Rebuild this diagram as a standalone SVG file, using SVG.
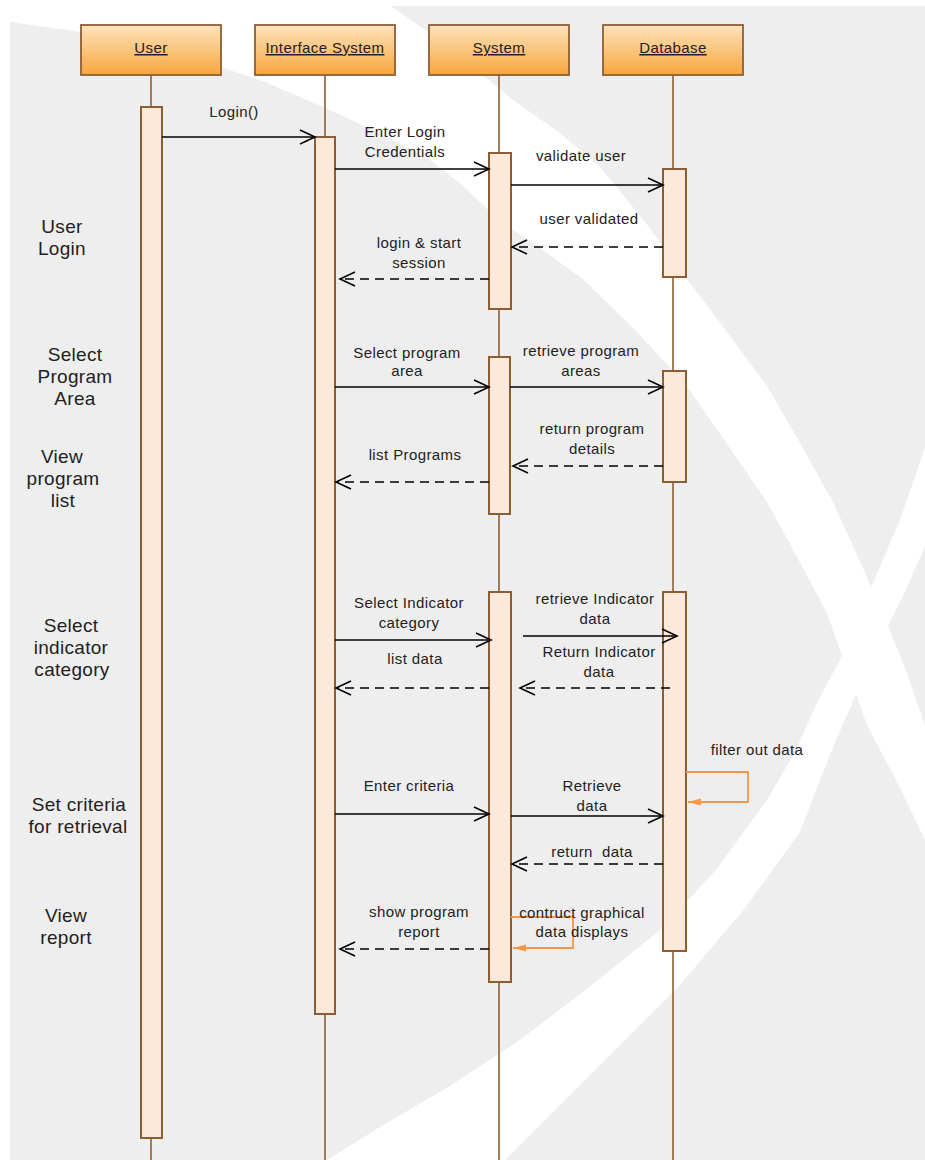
<svg xmlns="http://www.w3.org/2000/svg" width="925" height="1160" viewBox="0 0 925 1160">
<style>
  text { font-family: "Liberation Sans", Arial, sans-serif; fill: #222; }
  .hdr { font-size: 15px; letter-spacing: 0.4px; text-anchor: middle; text-decoration: underline; }
  .msg { font-size: 15px; letter-spacing: 0.4px; text-anchor: middle; }
  .side { font-size: 19px; letter-spacing: 0.3px; text-anchor: middle; }
  .box { fill: url(#hdrGrad); stroke: #8e5e33; stroke-width: 1.8; }
  .life { stroke: #8e5e33; stroke-width: 1.6; fill: none; }
  .act { fill: #fde9da; stroke: #8e5e33; stroke-width: 2; }
  .call { stroke: #000; stroke-width: 1.6; fill: none; marker-end: url(#open); }
  .ret { stroke: #000; stroke-width: 1.6; fill: none; stroke-dasharray: 9 6; marker-end: url(#open); }
  .self { stroke: #f79646; stroke-width: 1.8; fill: none; marker-end: url(#orange); }
</style>
<defs>
  <linearGradient id="hdrGrad" x1="0" y1="0" x2="0" y2="1">
    <stop offset="0" stop-color="#fde3bd"/>
    <stop offset="1" stop-color="#f9a63c"/>
  </linearGradient>
  <marker id="open" viewBox="0 0 16 16" refX="15" refY="8" markerWidth="16" markerHeight="16" markerUnits="userSpaceOnUse" orient="auto" overflow="visible">
    <path d="M0,1 L15,8 L0,15" fill="none" stroke="#000" stroke-width="1.6"/>
  </marker>
  <marker id="orange" viewBox="0 0 14 8" refX="13" refY="4" markerWidth="14" markerHeight="8" markerUnits="userSpaceOnUse" orient="auto" overflow="visible">
    <path d="M0,0.5 L13,4 L0,7.5 Z" fill="#f79646"/>
  </marker>
</defs>

<g id="background">
  <rect x="0" y="0" width="925" height="1160" fill="#ffffff"/>
  <rect x="10" y="6" width="915" height="1154" fill="#eeeeee"/>
  <polygon fill="#ffffff" points="10,6 391,6 445,44 513,100 560,133 600,167 645,222 687,279 727,332 767,386 800,443 833,502 858,557 883,613 905,668 925,725 925,840 897,782 867,725 847,669 827,613 797,557 767,502 727,444 687,386 635,330 583,279 540,248 500,221 462,185 430,160 380,133 330,110 265,82 200,60 110,36 10,22"/>
  <polygon fill="#ffffff" points="925,448 900,520 870,590 845,650 817,703 795,752 767,800 716,870 660,930 592,985 520,1040 450,1086 380,1127 327,1160 505,1160 590,1075 680,985 745,908 800,832 833,747 858,690 883,636 905,592 925,546"/>
</g>

<g id="user">
  <rect class="box" x="81" y="25" width="140" height="50"/>
  <text class="hdr" x="151" y="53">User</text>
  <line class="life" x1="151" y1="75" x2="151" y2="1160"/>
  <rect class="act" x="141" y="107" width="21" height="1031"/>
</g>

<g id="interface-system">
  <rect class="box" x="255" y="25" width="140" height="50"/>
  <text class="hdr" x="325" y="53">Interface System</text>
  <line class="life" x1="325" y1="75" x2="325" y2="1160"/>
  <rect class="act" x="315" y="137" width="20" height="877"/>
</g>

<g id="system">
  <rect class="box" x="429" y="25" width="140" height="50"/>
  <text class="hdr" x="499" y="53">System</text>
  <line class="life" x1="499" y1="75" x2="499" y2="1160"/>
  <rect class="act" x="489" y="153" width="22" height="156"/>
  <rect class="act" x="489" y="357" width="21" height="157"/>
  <rect class="act" x="489" y="592" width="22" height="390"/>
</g>

<g id="database">
  <rect class="box" x="603" y="25" width="140" height="50"/>
  <text class="hdr" x="673" y="53">Database</text>
  <line class="life" x1="673" y1="75" x2="673" y2="1160"/>
  <rect class="act" x="663" y="169" width="23" height="108"/>
  <rect class="act" x="663" y="371" width="23" height="111"/>
  <rect class="act" x="663" y="592" width="23" height="359"/>
</g>

<g id="connectors">
  <line class="call" x1="162" y1="137" x2="315" y2="137"/>
  <line class="call" x1="335" y1="169" x2="489" y2="169"/>
  <line class="call" x1="511" y1="185" x2="663" y2="185"/>
  <line class="ret" x1="663" y1="247" x2="512" y2="247"/>
  <line class="ret" x1="489" y1="279" x2="340" y2="279"/>
  <line class="call" x1="335" y1="387" x2="489" y2="387"/>
  <line class="call" x1="510" y1="387" x2="663" y2="387"/>
  <line class="ret" x1="663" y1="466" x2="513" y2="466"/>
  <line class="ret" x1="489" y1="482" x2="336" y2="482"/>
  <line class="call" x1="335" y1="640" x2="491" y2="640"/>
  <line class="call" x1="523" y1="636" x2="677" y2="636"/>
  <line class="ret" x1="670" y1="688" x2="520" y2="688"/>
  <line class="ret" x1="489" y1="688" x2="336" y2="688"/>
  <path class="self" d="M686,772 H748 V802 H688"/>
  <line class="call" x1="335" y1="814" x2="489" y2="814"/>
  <line class="call" x1="511" y1="816" x2="663" y2="816"/>
  <line class="ret" x1="663" y1="864" x2="512" y2="864"/>
  <path class="self" d="M511,917 H573 V948 H513"/>
  <line class="ret" x1="489" y1="949" x2="340" y2="949"/>
</g>

<g id="message-labels">
  <text class="msg" x="234" y="117">Login()</text>
  <text class="msg" x="405" y="137">Enter Login</text>
  <text class="msg" x="405" y="157">Credentials</text>
  <text class="msg" x="581" y="161">validate user</text>
  <text class="msg" x="589" y="224">user validated</text>
  <text class="msg" x="419" y="248">login &amp; start</text>
  <text class="msg" x="419" y="268">session</text>
  <text class="msg" x="407" y="358">Select program</text>
  <text class="msg" x="407" y="376">area</text>
  <text class="msg" x="581" y="356">retrieve program</text>
  <text class="msg" x="581" y="376">areas</text>
  <text class="msg" x="592" y="434">return program</text>
  <text class="msg" x="592" y="454">details</text>
  <text class="msg" x="415" y="460">list Programs</text>
  <text class="msg" x="409" y="608">Select Indicator</text>
  <text class="msg" x="409" y="628">category</text>
  <text class="msg" x="595" y="604">retrieve Indicator</text>
  <text class="msg" x="595" y="624">data</text>
  <text class="msg" x="599" y="657">Return Indicator</text>
  <text class="msg" x="599" y="677">data</text>
  <text class="msg" x="415" y="664">list data</text>
  <text class="msg" x="757" y="755">filter out data</text>
  <text class="msg" x="409" y="791">Enter criteria</text>
  <text class="msg" x="592" y="791">Retrieve</text>
  <text class="msg" x="592" y="811">data</text>
  <text class="msg" x="592" y="857" xml:space="preserve">return  data</text>
  <text class="msg" x="582" y="918">contruct graphical</text>
  <text class="msg" x="582" y="937">data displays</text>
  <text class="msg" x="419" y="917">show program</text>
  <text class="msg" x="419" y="937">report</text>
</g>

<g id="phase-labels">
  <text class="side" x="62" y="233">User</text>
  <text class="side" x="62" y="255">Login</text>
  <text class="side" x="75" y="361">Select</text>
  <text class="side" x="75" y="383">Program</text>
  <text class="side" x="75" y="405">Area</text>
  <text class="side" x="62" y="463">View</text>
  <text class="side" x="63" y="485">program</text>
  <text class="side" x="63" y="507">list</text>
  <text class="side" x="71" y="632">Select</text>
  <text class="side" x="71" y="654">indicator</text>
  <text class="side" x="72" y="676">category</text>
  <text class="side" x="79" y="811">Set criteria</text>
  <text class="side" x="78" y="833">for retrieval</text>
  <text class="side" x="66" y="922">View</text>
  <text class="side" x="66" y="944">report</text>
</g>
</svg>
